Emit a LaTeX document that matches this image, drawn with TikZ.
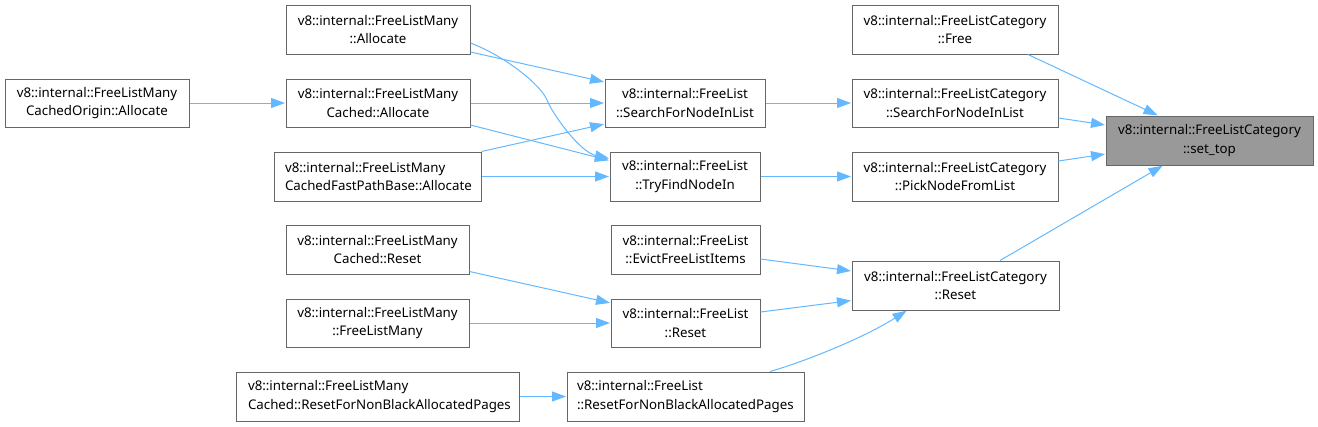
\documentclass[tikz,border=0pt]{standalone}
\usepackage{fontspec}
\setmainfont{Noto Sans}
\usetikzlibrary{arrows.meta}
\definecolor{edgeblue}{HTML}{63B8FF}
\definecolor{boxgray}{HTML}{666666}
\definecolor{topfill}{HTML}{999999}
\tikzset{
  fn/.style={draw=boxgray, line width=1pt, fill=white, inner sep=0pt, align=center,
    font=\fontsize{13.3}{18.6}\selectfont, text=black},
  fnleft/.style={fn, align=left, text width=#1},
  calls/.style={draw=edgeblue, line width=1pt, -{Triangle[length=14pt,width=10pt]}, shorten >=0.5pt},
}
\newcommand{\bx}[7][fn]{%
  \node[#1, minimum width=#5pt-#3pt, minimum height=#6pt-#4pt] (#2) at ({(#3+#5)/2},{(#4+#6)/2}) {#7};}
\begin{document}
\begin{tikzpicture}[x=1pt,y=-1pt]
\useasboundingbox (0,0) rectangle (1318,426);
% column 1
\bx{co}{5}{79}{189}{127}{v8::internal::FreeListMany\\CachedOrigin::Allocate}
% column 2
\bx{a1}{286}{5}{470}{54}{v8::internal::FreeListMany\\::Allocate}
\bx{ca}{286}{79}{470}{127}{v8::internal::FreeListMany\\Cached::Allocate}
\bx[fnleft=185pt]{fp}{274}{152}{481}{201}{v8::internal::FreeListMany\\CachedFastPathBase::Allocate}
\bx{cr}{286}{225}{469}{274}{v8::internal::FreeListMany\\Cached::Reset}
\bx{flm}{286}{299}{469}{347}{v8::internal::FreeListMany\\::FreeListMany}
\bx[fnleft=259pt]{crn}{236}{372}{519}{421}{v8::internal::FreeListMany\\Cached::ResetForNonBlackAllocatedPages}
% column 3
\bx{sfl}{605}{79}{765}{127}{v8::internal::FreeList\\::SearchForNodeInList}
\bx{tfn}{610}{152}{760}{201}{v8::internal::FreeList\\::TryFindNodeIn}
\bx{ev}{611}{225}{760}{274}{v8::internal::FreeList\\::EvictFreeListItems}
\bx{rs}{611}{299}{760}{347}{v8::internal::FreeList\\::Reset}
\bx[fnleft=217pt]{rn}{567}{372}{804}{421}{v8::internal::FreeList\\::ResetForNonBlackAllocatedPages}
% column 4
\bx{free}{852}{5}{1058}{54}{v8::internal::FreeListCategory\\::Free}
\bx{scs}{852}{79}{1058}{127}{v8::internal::FreeListCategory\\::SearchForNodeInList}
\bx{pick}{852}{152}{1058}{201}{v8::internal::FreeListCategory\\::PickNodeFromList}
\bx{fcr}{852}{261}{1059}{310}{v8::internal::FreeListCategory\\::Reset}
% target
\bx[fn, fill=topfill]{top}{1106}{116}{1313}{165}{v8::internal::FreeListCategory\\::set\_top}
% edges
\draw[calls] (co.east) -- (ca.west);
\draw[calls] ([yshift=-22.5pt]a1.east) -- ([yshift=21pt]sfl.west);
\draw[calls] ([yshift=-13.5pt]a1.east) .. controls (505,56) and (541,85) .. (547,100)
   .. controls (553,115) and (580,152) .. ([yshift=18pt]tfn.west);
\draw[calls] (ca.east) -- (sfl.west);
\draw[calls] ([yshift=-22pt]ca.east) -- ([yshift=16pt]tfn.west);
\draw[calls] (fp.north east) -- ([yshift=-21pt]sfl.west);
\draw[calls] (fp.east) -- (tfn.west);
\draw[calls] (sfl.east) -- (scs.west);
\draw[calls] (tfn.east) -- (pick.west);
\draw[calls] ([xshift=73pt]free.south) -- ([xshift=-51.5pt]top.north);
\draw[calls] ([yshift=-15pt]scs.east) -- ([yshift=15.5pt]top.west);
\draw[calls] ([yshift=15.5pt]pick.east) -- ([yshift=-13.5pt]top.west);
\draw[calls] ([xshift=44.5pt]fcr.north) -- ([xshift=-46.5pt]top.south);
\draw[calls] ([yshift=-22pt]cr.east) -- ([yshift=20pt]rs.west);
\draw[calls] (flm.east) -- (rs.west);
\draw[calls] (crn.east) -- (rn.west);
\draw[calls] ([yshift=-9.5pt]ev.east) -- ([yshift=14.5pt]fcr.west);
\draw[calls] ([yshift=11pt]rs.east) -- ([yshift=-15pt]fcr.west);
\draw[calls] ([xshift=84.5pt]rn.north) .. controls (800,363) and (860,340) .. ([xshift=-48.5pt]fcr.south);
\end{tikzpicture}
\end{document}
